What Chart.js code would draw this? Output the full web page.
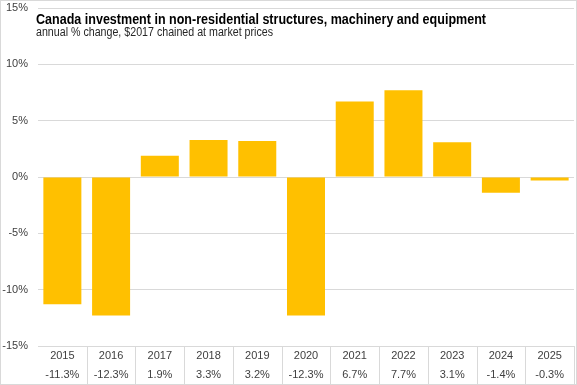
<!DOCTYPE html>
<html>
<head>
<meta charset="utf-8">
<script src="https://cdn.jsdelivr.net/npm/chart.js@4"></script>
<style>
  body { margin: 0; background: #fff; }
  #outer { width: 577px; height: 385px; overflow: hidden; }
  #wrap { width: 577px; height: 388px; margin-top: -3px; position: relative; }
</style>
</head>
<body>
<div id="outer"><div id="wrap"><canvas id="barChart"></canvas></div></div>
<script>
// chart data
const years = ["2015", "2016", "2017", "2018", "2019", "2020", "2021", "2022", "2023", "2024", "2025"];
const changes = [-11.3, -12.3, 1.9, 3.3, 3.2, -12.3, 6.7, 7.7, 3.1, -1.4, -0.3];
const yTicks = [-15, -10, -5, 0, 5, 10, 15];

const titleText = "Canada investment in non-residential structures, machinery and equipment";
const subtitleText = "annual % change, $2017 chained at market prices";

const shift = 3; // canvas starts 3px above the visible frame

// draws text squeezed to a given width (the original uses a narrow font)
function fitText(ctx, text, x, y, width) {
  const w = ctx.measureText(text).width;
  ctx.save();
  ctx.translate(x, y);
  ctx.scale(Math.min(1, width / w), 1);
  ctx.fillText(text, 0, 0);
  ctx.restore();
}

// title, table lines and outer frame
const decorPlugin = {
  id: 'decor',
  afterDraw(chart) {
    const ctx = chart.ctx;
    const area = chart.chartArea;
    const x = chart.scales.x;
    ctx.save();
    ctx.fillStyle = '#000';
    ctx.textBaseline = 'alphabetic';
    ctx.font = 'bold 15.5px "Liberation Sans", sans-serif';
    fitText(ctx, titleText, 36, 24 + shift, 450);
    ctx.font = '12.5px "Liberation Sans", sans-serif';
    ctx.fillStyle = '#262626';
    fitText(ctx, subtitleText, 36, 36 + shift, 237);

    // table grid under the axis
    ctx.strokeStyle = '#d9d9d9';
    ctx.lineWidth = 1;
    const half = (x.getPixelForValue(1) - x.getPixelForValue(0)) / 2;
    for (let i = 1; i <= years.length; i++) {
      const px = Math.round(x.getPixelForValue(i) - half) + 0.5;
      ctx.beginPath();
      ctx.moveTo(px, area.bottom);
      ctx.lineTo(px, chart.height);
      ctx.stroke();
    }
    ctx.strokeRect(0.5, shift + 0.5, chart.width - 1, chart.height - shift - 1);
    ctx.restore();
  }
};

const ctx = document.getElementById('barChart').getContext('2d');
new Chart(ctx, {
  type: 'bar',
  data: {
    labels: years,
    datasets: [{
      label: 'Annual % change',
      data: changes,
      backgroundColor: '#FFC000',
      borderWidth: 0,
      barPercentage: 0.78,
      categoryPercentage: 1
    }]
  },
  options: {
    responsive: true,
    maintainAspectRatio: false,
    animation: false,
    layout: { padding: { top: 4, right: 3, left: 0, bottom: 0 } },
    plugins: {
      legend: { display: false },
      tooltip: { enabled: false }
    },
    scales: {
      x: {
        grid: { display: false, drawTicks: false },
        border: { display: false },
        ticks: {
          color: '#404040',
          font: { family: '"Liberation Sans", sans-serif', size: 11, lineHeight: 1.7 },
          padding: 1,
          maxRotation: 0,
          autoSkip: false,
          callback: (v, i) => [years[i], changes[i].toFixed(1) + '%']
        },
        afterFit: (scale) => { scale.height = 39; }
      },
      y: {
        min: yTicks[0],
        max: yTicks[yTicks.length - 1],
        afterBuildTicks: (scale) => { scale.ticks = yTicks.map(v => ({ value: v })); },
        grid: { color: '#d9d9d9', drawTicks: false },
        border: { display: false },
        ticks: {
          color: '#404040',
          font: { family: '"Liberation Sans", sans-serif', size: 11, lineHeight: 0.2 },
          padding: 10,
          callback: (v) => v + '%'
        },
        afterFit: (scale) => { scale.width = 38; }
      }
    }
  },
  plugins: [decorPlugin]
});
</script>
</body>
</html>
